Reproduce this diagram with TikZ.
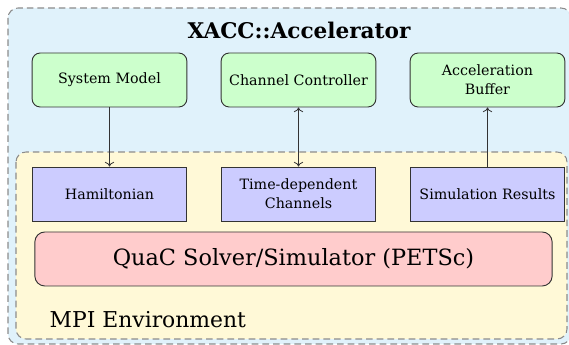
\documentclass[tikz,border=0pt]{standalone}
\usepackage{fontspec}
\setmainfont{DejaVu Serif}
\usetikzlibrary{positioning,arrows.meta}

\definecolor{accbg}{HTML}{E0F2FB}
\definecolor{mpibg}{HTML}{FFF9D7}
\definecolor{ctlgreen}{HTML}{CCFFCC}
\definecolor{datablue}{HTML}{CCCCFF}
\definecolor{solvred}{HTML}{FFCCCC}
\definecolor{rim}{HTML}{333333}

\tikzset{
  region/.style={draw=black!45, dash pattern=on 5pt off 3pt, line width=0.8pt, rounded corners=7.5pt},
  xaccbox/.style={draw=rim, fill=ctlgreen, rounded corners=6pt, line width=0.7pt,
    minimum width=116pt, minimum height=40.5pt, align=center,
    font=\fontsize{10.7}{14}\selectfont},
  quacbox/.style={draw=rim, fill=datablue, line width=0.7pt,
    minimum width=116pt, minimum height=40.5pt, align=center,
    font=\fontsize{10.7}{14}\selectfont},
  link/.style={line width=0.6pt, draw=rim, >={To[length=3.5pt,width=7pt]}}
}

\begin{document}
\begin{tikzpicture}[x=0.75pt,y=-0.75pt]
		%%%%% REGIONS %%%%%
		\useasboundingbox (0,0) rectangle (569,345);
		\draw[region, fill=accbg] (8,8) rectangle (571,344);
		\draw[region, fill=mpibg] (16,152) rectangle (567,339);
		
		\node[font=\fontsize{16.2}{18}\selectfont\bfseries] (title) at (299,30) {XACC::Accelerator};
		
		%%%%% ACCELERATOR SIDE %%%%%
		\node[xaccbox] (sysmodel) at (109.5,80) {System Model};
		\node[xaccbox] (chanctl) at (298.5,80) {Channel Controller};
		\node[xaccbox] (accbuf) at (487.5,80) {Acceleration\\Buffer};
		
		%%%%% QUAC SIDE %%%%%
		\node[quacbox] (hamil) at (109.5,194) {Hamiltonian};
		\node[quacbox] (tdchan) at (298.5,194) {Time-dependent\\Channels};
		\node[quacbox] (simres) at (487.5,194) {Simulation Results};
		
		\node[draw=rim, fill=solvred, rounded corners=7.5pt, line width=0.7pt,
		  minimum width=388pt, minimum height=40.5pt, font=\fontsize{16.8}{20}\selectfont]
		  (solver) at (293.5,259) {QuaC Solver/Simulator (PETSc)};
		
		\node[anchor=west, font=\fontsize{16.4}{20}\selectfont] (mpi) at (45,320) {MPI Environment};
		
		%%%%% LINKS %%%%%
		\draw[link, ->] (sysmodel) -- (hamil);
		\draw[link, <->] (chanctl) -- (tdchan);
		\draw[link, ->] (simres) -- (accbuf);
		
		%%%%% END %%%%%
\end{tikzpicture}
\end{document}
